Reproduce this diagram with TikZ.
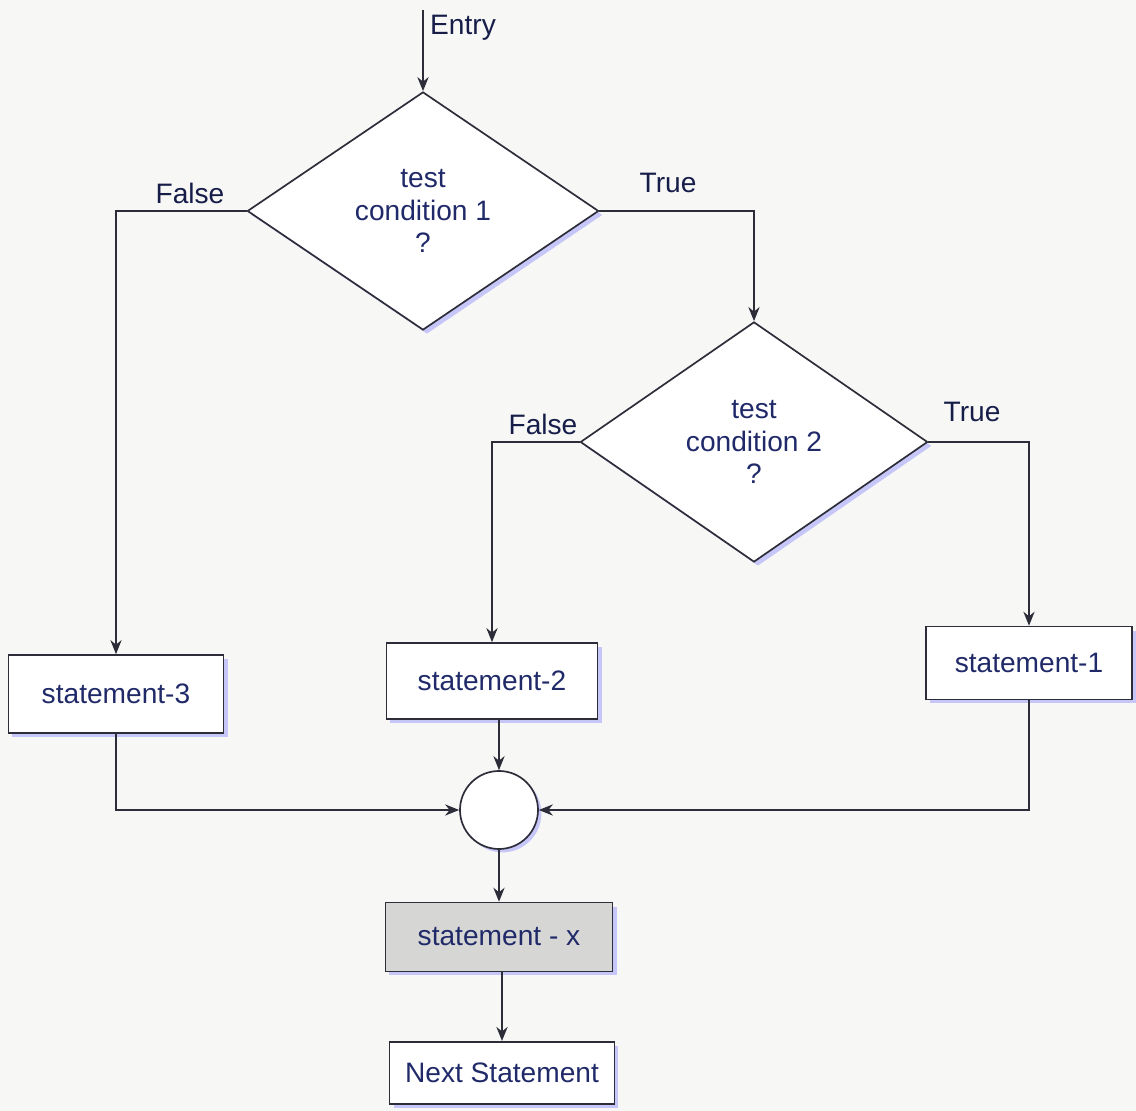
\documentclass[tikz,border=0pt]{standalone}
\usepackage{fontspec}
\setmainfont{Liberation Sans}
\usepackage{tikz}
\usetikzlibrary{shapes, shapes.geometric, arrows.meta, positioning, shadows}

\definecolor{inkblue}{RGB}{32,42,105}
\definecolor{inkline}{RGB}{45,45,58}
\definecolor{paper}{RGB}{247,247,245}
\definecolor{boxgray}{RGB}{214,214,212}

\begin{document}
\begin{tikzpicture}[
				x=0.0125cm, y=-0.0125cm,
				box/.style={
					rectangle,
					draw=inkline,
					fill=white,
					text=inkblue,
					font=\fontsize{10}{11}\selectfont,
					line width=0.6pt,
					drop shadow={shadow xshift=1.4pt, shadow yshift=-1.4pt, fill=blue!45, opacity=0.45}
				},
				decision/.style={
					diamond,
					draw=inkline,
					fill=white,
					text=inkblue,
					align=center,
					inner sep=0pt,
					font=\fontsize{10}{11.5}\selectfont,
					line width=0.6pt,
					drop shadow={shadow xshift=1.4pt, shadow yshift=-1.4pt, fill=blue!45, opacity=0.45}
				},
				lbl/.style={
					text=inkblue!70!black,
					font=\fontsize{10}{11}\selectfont
				},
				arrow/.style={
					-{Stealth[length=5pt, width=4pt]},
					draw=inkline,
					line width=0.6pt
				}
				]
				
				\useasboundingbox[fill=paper] (0,0) rectangle (1136,1111);
				
				% Entry point
				\coordinate (entry) at (423,10);
				\node[lbl] (entrylbl) at (463,28) {Entry};
				
				% Decision 1: test condition 1
				\node[decision, minimum width=4.39cm, minimum height=2.975cm] (cond1) at (423,211) {test\\condition 1\\?};
				
				\draw[arrow] (entry) -- (cond1.north);
				
				% Decision 2: test condition 2
				\node[decision, minimum width=4.34cm, minimum height=3.0cm] (cond2) at (754,442) {test\\condition 2\\?};
				
				% Statements
				\node[box, minimum width=2.69cm, minimum height=0.975cm] (stmt3) at (116,694) {statement-3};
				\node[box, minimum width=2.64cm, minimum height=0.95cm] (stmt2) at (492,681) {statement-2};
				\node[box, minimum width=2.575cm, minimum height=0.91cm] (stmt1) at (1029,663) {statement-1};
				
				% Joining point
				\node[circle, draw=inkline, fill=white, line width=0.6pt, minimum size=0.975cm,
					drop shadow={shadow xshift=1.2pt, shadow yshift=-1.2pt, fill=blue!45, opacity=0.45}] (join) at (499,810) {};
				
				% Statement x and next statement
				\node[box, fill=boxgray, minimum width=2.84cm, minimum height=0.86cm] (stmtx) at (499,937) {statement - x};
				\node[box, minimum width=2.81cm, minimum height=0.78cm] (next) at (502,1073) {Next Statement};
				
				% Branches of condition 1
				\draw[arrow] (cond1.west) -| (stmt3.north);
				\node[lbl] (false1) at (190,193) {False};
				\draw[arrow] (cond1.east) -| (cond2.north);
				\node[lbl] (true1) at (668,183) {True};
				
				% Branches of condition 2
				\draw[arrow] (cond2.west) -| (stmt2.north);
				\node[lbl] (false2) at (543,424) {False};
				\draw[arrow] (cond2.east) -| (stmt1.north);
				\node[lbl] (true2) at (972,412) {True};
				
				% Into the joining point
				\draw[arrow] (stmt3.south) |- (join.west);
				\draw[arrow] (stmt2.south -| join.north) -- (join.north);
				\draw[arrow] (stmt1.south) |- (join.east);
				
				% Out of the joining point
				\draw[arrow] (join.south) -- (stmtx.north);
				\draw[arrow] (stmtx.south -| next.north) -- (next.north);
				
			\end{tikzpicture}
\end{document}
